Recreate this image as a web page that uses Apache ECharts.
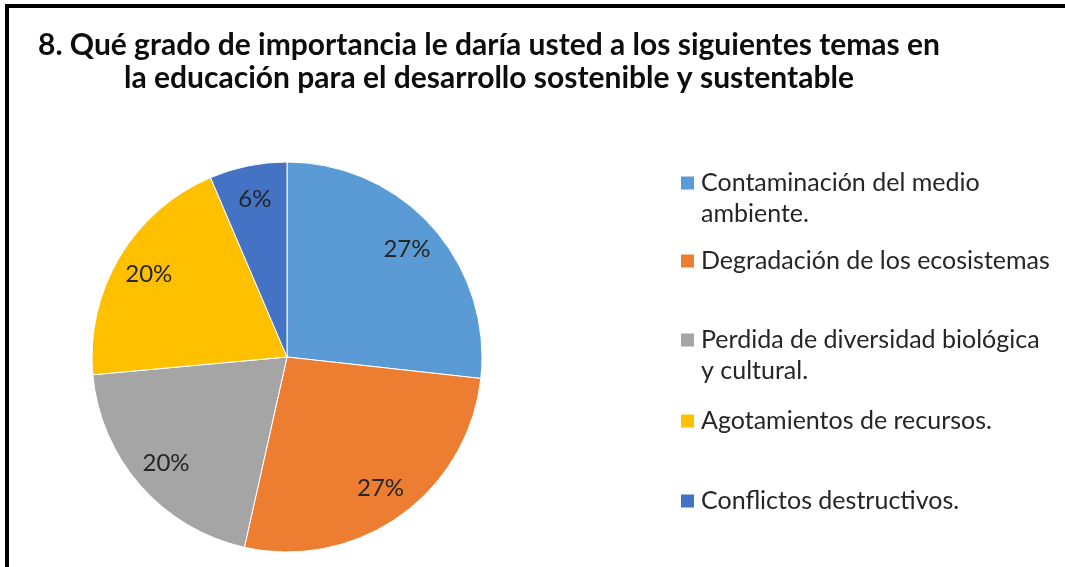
<!DOCTYPE html>
<html>
<head>
<meta charset="utf-8">
<script src="https://cdn.jsdelivr.net/npm/echarts@6/dist/echarts.min.js"></script>
<style>
    body { margin: 0; background: #fff; }
    .marco { position: absolute; left: 5px; top: 4px; right: 0; bottom: 0; border-left: 4px solid #000; border-top: 4px solid #000; }
    #grafico { position: absolute; left: 0; top: 0; width: 1065px; height: 567px; }
</style>
</head>
<body>
<div class="marco"></div>
<div id="grafico"></div>
<script>
var temas = [
    'Contaminación del medio\nambiente.',
    'Degradación de los ecosistemas',
    'Perdida de diversidad biológica\ny cultural.',
    'Agotamientos de recursos.',
    'Conflictos destructivos.'
];
var porcentajes = [26.7, 26.7, 20, 20, 6.4];
var colores = ['#5B9BD5', '#ED7D31', '#A5A5A5', '#FFC000', '#4472C4'];

(function () {
    var myChart = echarts.init(document.getElementById('grafico'));
    var datos = temas.map(function (t, i) {
        return { name: t, value: porcentajes[i] };
    });

    // centro de la primera linea de cada item de la leyenda
    var filaY = [183, 261, 340, 421, 501];
    var alto = 31;
    var iconoDosLineas = 'path://M0,0L0.01,0L0,0.01Z M0,9H13V22H0Z M0,62L0.01,62L0,61.99Z';
    var leyendas = temas.map(function (t, i) {
        var dos = t.indexOf('\n') >= 0;
        return {
            data: [t],
            orient: 'vertical',
            left: 681,
            top: filaY[i] - alto / 2,
            padding: 0,
            itemWidth: 13,
            itemHeight: dos ? alto * 2 : 13,
            icon: dos ? iconoDosLineas : 'rect',
            itemGap: 0,
            selectedMode: false,
            itemStyle: { borderWidth: 0 },
            textStyle: {
                fontFamily: 'Lato',
                fontSize: 25,
                lineHeight: alto,
                color: '#262626',
                padding: [0, 0, 0, 2]
            }
        };
    });

    var option = {
        color: colores,
        animation: false,
        title: {
            text: '8. Qué grado de importancia le daría usted a los siguientes temas en\nla educación para el desarrollo sostenible y sustentable',
            left: 489,
            top: 29,
            padding: 0,
            textAlign: 'center',
            textStyle: {
                fontFamily: 'Lato',
                fontWeight: 'bold',
                fontSize: 30,
                lineHeight: 33,
                color: '#0d0d0d'
            }
        },
        legend: leyendas,
        series: [
            {
                name: 'Importancia',
                type: 'pie',
                center: [287, 357],
                radius: [0, 195],
                startAngle: 90,
                data: datos,
                label: { show: false },
                labelLine: { show: false },
                itemStyle: { borderColor: '#fff', borderWidth: 1 }
            },
            {
                // serie transparente solo para ubicar las etiquetas cerca del borde
                name: 'Etiquetas',
                type: 'pie',
                silent: true,
                center: [287, 357],
                radius: [121, 195],
                startAngle: 90,
                avoidLabelOverlap: false,
                data: datos,
                itemStyle: { color: 'transparent' },
                label: {
                    show: true,
                    position: 'inside',
                    formatter: function (p) {
                        return Math.round(p.value) + '%';
                    },
                    fontFamily: 'Lato',
                    fontSize: 24,
                    color: '#262626'
                },
                labelLine: { show: false }
            }
        ]
    };
    myChart.setOption(option);
    window.addEventListener('resize', function () {
        myChart.resize();
    });
})();
</script>
</body>
</html>
